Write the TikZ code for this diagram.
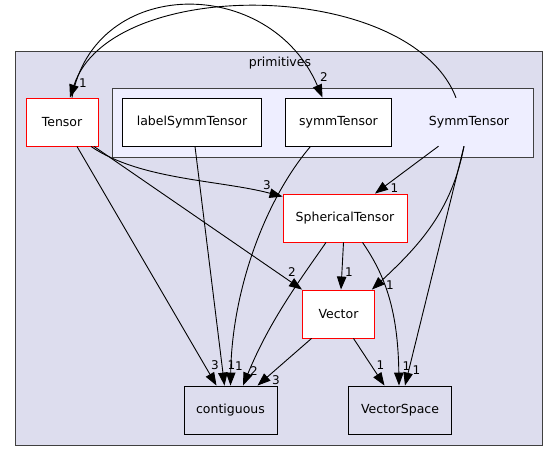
\documentclass[tikz,border=0pt]{standalone}
\usepackage{fontspec}
\setmainfont{DejaVu Sans}
\usetikzlibrary{arrows.meta}
\definecolor{outerfill}{HTML}{DDDDEE}
\definecolor{innerfill}{HTML}{EEEEFF}
\definecolor{clborder}{HTML}{404040}
\begin{document}
\begin{tikzpicture}[x=1pt,y=-1pt, font=\fontsize{12.5}{15}\selectfont,
  box/.style={draw=black, line width=0.9pt, inner sep=0pt, minimum height=48pt, fill=white},
  redbox/.style={box, draw=red},
  plainbox/.style={box, fill=none},
  cluster/.style={draw=clborder, line width=1pt},
  edge/.style={draw=black, line width=0.9pt, -{Triangle[length=13pt,width=9.5pt]}},
  elabel/.style={inner sep=0pt, font=\fontsize{12}{14}\selectfont}]
\useasboundingbox (0,0) rectangle (560,461);
% clusters
\draw[cluster, fill=outerfill] (15,51.5) rectangle (542,445);
\node (primlbl) at (280,63) {primitives};
\draw[cluster, fill=innerfill] (112,88) rectangle (533,157);
\node[inner sep=0pt, minimum width=80pt, minimum height=48pt] (SymmTensor) at (469,122) {SymmTensor};
% nodes
\node[redbox, minimum width=72pt] (Tensor) at (62,122) {Tensor};
\node[box, minimum width=139pt] (labelSymmTensor) at (192,122) {labelSymmTensor};
\node[box, minimum width=106pt] (symmTensor) at (338.5,122) {symmTensor};
\node[redbox, minimum width=124pt] (SphericalTensor) at (345,218) {SphericalTensor};
\node[redbox, minimum width=72pt] (Vector) at (338.5,314) {Vector};
\node[plainbox, minimum width=93pt] (contiguous) at (230.5,410) {contiguous};
\node[plainbox, minimum width=103pt] (VectorSpace) at (400,410) {VectorSpace};
% edges
\draw[edge] ([xshift=-13pt]SymmTensor.north) .. controls (410,-22) and (110,-25) .. ([xshift=8pt]Tensor.north);
\draw[edge] ([xshift=10pt]Tensor.north) .. controls (95,-25) and (270,-25) .. ([xshift=-16pt]symmTensor.north);
\draw[edge] ([xshift=29pt]Tensor.south) .. controls (140,180) and (220,180) .. ([yshift=-3pt]SphericalTensor.north west);
\draw[edge] ([xshift=32pt]Tensor.south) -- (Vector.north west);
\draw[edge] ([xshift=15pt]Tensor.south) -- ([xshift=-14pt]contiguous.north);
\draw[edge] ([xshift=3pt]labelSymmTensor.south) -- ([xshift=-6pt]contiguous.north);
\draw[edge] ([xshift=-28pt]symmTensor.south) .. controls (265,200) and (232,290) .. (contiguous.north);
\draw[edge] ([xshift=-19pt]SphericalTensor.south) .. controls (300,280) and (270,320) .. ([xshift=12.5pt]contiguous.north);
\draw[edge] ([xshift=-27pt]Vector.south) -- ([xshift=27pt]contiguous.north);
\draw[edge] ([xshift=-1.5pt]SphericalTensor.south) -- ([xshift=2.5pt]Vector.north);
\draw[edge] ([xshift=-30.5pt]SymmTensor.south) -- ([xshift=30pt]SphericalTensor.north);
\draw[edge] ([xshift=-5pt]SymmTensor.south) .. controls (452,210) and (420,245) .. ([xshift=-3pt]Vector.north east);
\draw[edge] ([xshift=-5pt]SymmTensor.south) -- ([xshift=5pt]VectorSpace.north);
\draw[edge] ([xshift=17.5pt]SphericalTensor.south) .. controls (385,275) and (398,310) .. ([xshift=-1pt]VectorSpace.north);
\draw[edge] ([xshift=15pt]Vector.south) -- ([xshift=-15.5pt]VectorSpace.north);
% edge labels
\node[elabel] (l1) at (83,83) {1};
\node[elabel] (l2) at (324,77) {2};
\node[elabel] (l3) at (267,185) {3};
\node[elabel] (l4) at (292,272) {2};
\node[elabel] (l5) at (215,365) {3};
\node[elabel] (l6) at (231.5,365) {1};
\node[elabel] (l7) at (239,366) {1};
\node[elabel] (l8) at (254,371.5) {2};
\node[elabel] (l9) at (276,380) {3};
\node[elabel] (l10) at (349,272) {1};
\node[elabel] (l11) at (394.5,188) {1};
\node[elabel] (l12) at (390,285) {1};
\node[elabel] (l13) at (416.5,370) {1};
\node[elabel] (l14) at (406.5,366.5) {1};
\node[elabel] (l15) at (380.5,365) {1};
\end{tikzpicture}
\end{document}
